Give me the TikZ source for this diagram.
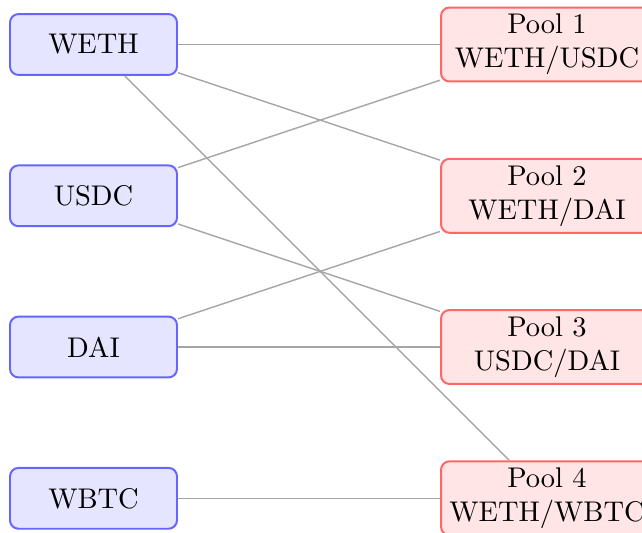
\documentclass[tikz,border=0pt]{standalone}
\begin{document}
\begin{tikzpicture}[x=0.3515pt,y=-0.3515pt,
  token/.style={draw=blue!60, fill=blue!10, line width=0.7pt, rounded corners=3pt,
    minimum width=58.7pt, minimum height=21.4pt, inner sep=0pt},
  pool/.style={draw=red!60, fill=red!10, line width=0.7pt, rounded corners=3pt,
    minimum width=74.5pt, minimum height=26pt, inner sep=0pt, align=center},
  link/.style={draw=gray!70, line width=0.5pt}]
\useasboundingbox (0,0) rectangle (642,532);
\node[token] (weth) at (93.5,44.5) {WETH};
\node[token] (usdc) at (93.5,195.8) {USDC};
\node[token] (dai) at (93.5,347) {DAI};
\node[token] (wbtc) at (93.5,498.3) {WBTC};
\node[pool] (p1) at (547,44.5) {Pool 1\\WETH/USDC};
\node[pool] (p2) at (547,195.8) {Pool 2\\WETH/DAI};
\node[pool] (p3) at (547,347) {Pool 3\\USDC/DAI};
\node[pool] (p4) at (547,498.3) {Pool 4\\WETH/WBTC};
\begin{scope}[on background layer/.try]
\end{scope}
\draw[link] (weth) -- (p1);
\draw[link] (weth) -- (p2);
\draw[link] (weth) -- (p4);
\draw[link] (usdc) -- (p1);
\draw[link] (usdc) -- (p3);
\draw[link] (dai) -- (p2);
\draw[link] (dai) -- (p3);
\draw[link] (wbtc) -- (p4);
\end{tikzpicture}
\end{document}
